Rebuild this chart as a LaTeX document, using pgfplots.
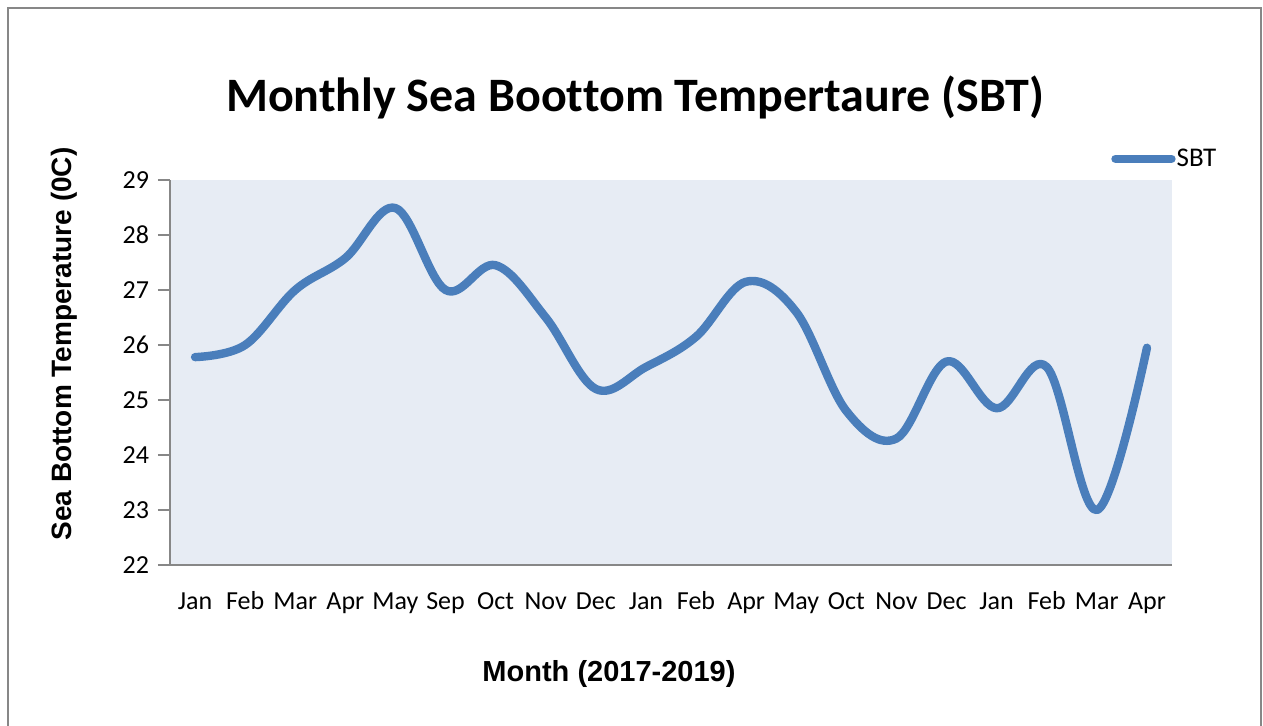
\documentclass[border=0pt]{standalone}
\usepackage{fontspec}
\setmainfont{Carlito}[Ligatures={NoCommon}]
\newfontfamily\arialfont{Liberation Sans}
\usepackage{pgfplots}
\pgfplotsset{compat=1.18}
\definecolor{sbtblue}{HTML}{4A7EBB}
\definecolor{plotbg}{HTML}{E7ECF4}
\definecolor{axgray}{HTML}{878787}
\begin{document}
\begin{tikzpicture}
\path[use as bounding box] (-85pt,-80.5pt) rectangle (546.5pt,282.5pt);
\draw[axgray, line width=1pt] (-81pt,-90pt) -- (-81pt,278.5pt) -- (545.5pt,278.5pt) -- (545.5pt,-90pt);
\begin{axis}[
  at={(0,0)}, anchor=south west,
  scale only axis, width=501pt, height=192.5pt,
  xmin=-0.5, xmax=19.5, ymin=22, ymax=29,
  ytick={22,23,...,29},
  xtick={0,...,19},
  xticklabels={Jan,Feb,Mar,Apr,May,Sep,Oct,Nov,Dec,Jan,Feb,Apr,May,Oct,Nov,Dec,Jan,Feb,Mar,Apr},
  axis lines*=left,
  axis line style={axgray, line width=1pt, -},
  axis background/.style={fill=plotbg},
  major tick length=6pt,
  y tick style={axgray, line width=1pt},
  x tick style={draw=none},
  tick align=outside,
  yticklabel style={font=\fontsize{13pt}{14pt}\selectfont, xshift=-1pt},
  xticklabel style={font=\fontsize{13pt}{14pt}\selectfont, anchor=base, yshift=-16.5pt},
  /pgf/number format/assume math mode=true,
  legend style={draw=none, fill=none, at={(0.939,1.055)}, anchor=west, inner sep=0pt,
    font=\fontsize{13.5pt}{14pt}\selectfont, nodes={inner sep=0.5pt}},
  legend cell align=left,
  legend image code/.code={\draw[line width=4.2pt, line cap=round, sbtblue] (0pt,0pt) -- (28pt,0pt);},
  clip=false,
]
\addplot[sbtblue, line width=4.2pt, smooth, tension=0.6, line cap=round, line join=round] coordinates {
(0,25.78) (1,26.0) (2,27.0) (3,27.58) (4,28.49) (5,27.0) (6,27.45) (7,26.5) (8,25.2) (9,25.6)
(10,26.15) (11,27.15) (12,26.6) (13,24.8) (14,24.3) (15,25.7) (16,24.85) (17,25.6) (18,23.0) (19,25.95)
};
\addlegendentry{SBT}
\end{axis}
\node[font=\fontsize{24pt}{28pt}\selectfont\bfseries] at (232.5pt,234pt) {Monthly Sea Boottom Tempertaure (SBT)};
\node[font=\arialfont\fontsize{14pt}{16pt}\selectfont\bfseries, rotate=90] at (-53pt,110.5pt) {Sea Bottom Temperature (0C)};
\node[font=\arialfont\fontsize{14.5pt}{16pt}\selectfont\bfseries] at (219.5pt,-54.5pt) {Month (2017-2019)};
\end{tikzpicture}
\end{document}
